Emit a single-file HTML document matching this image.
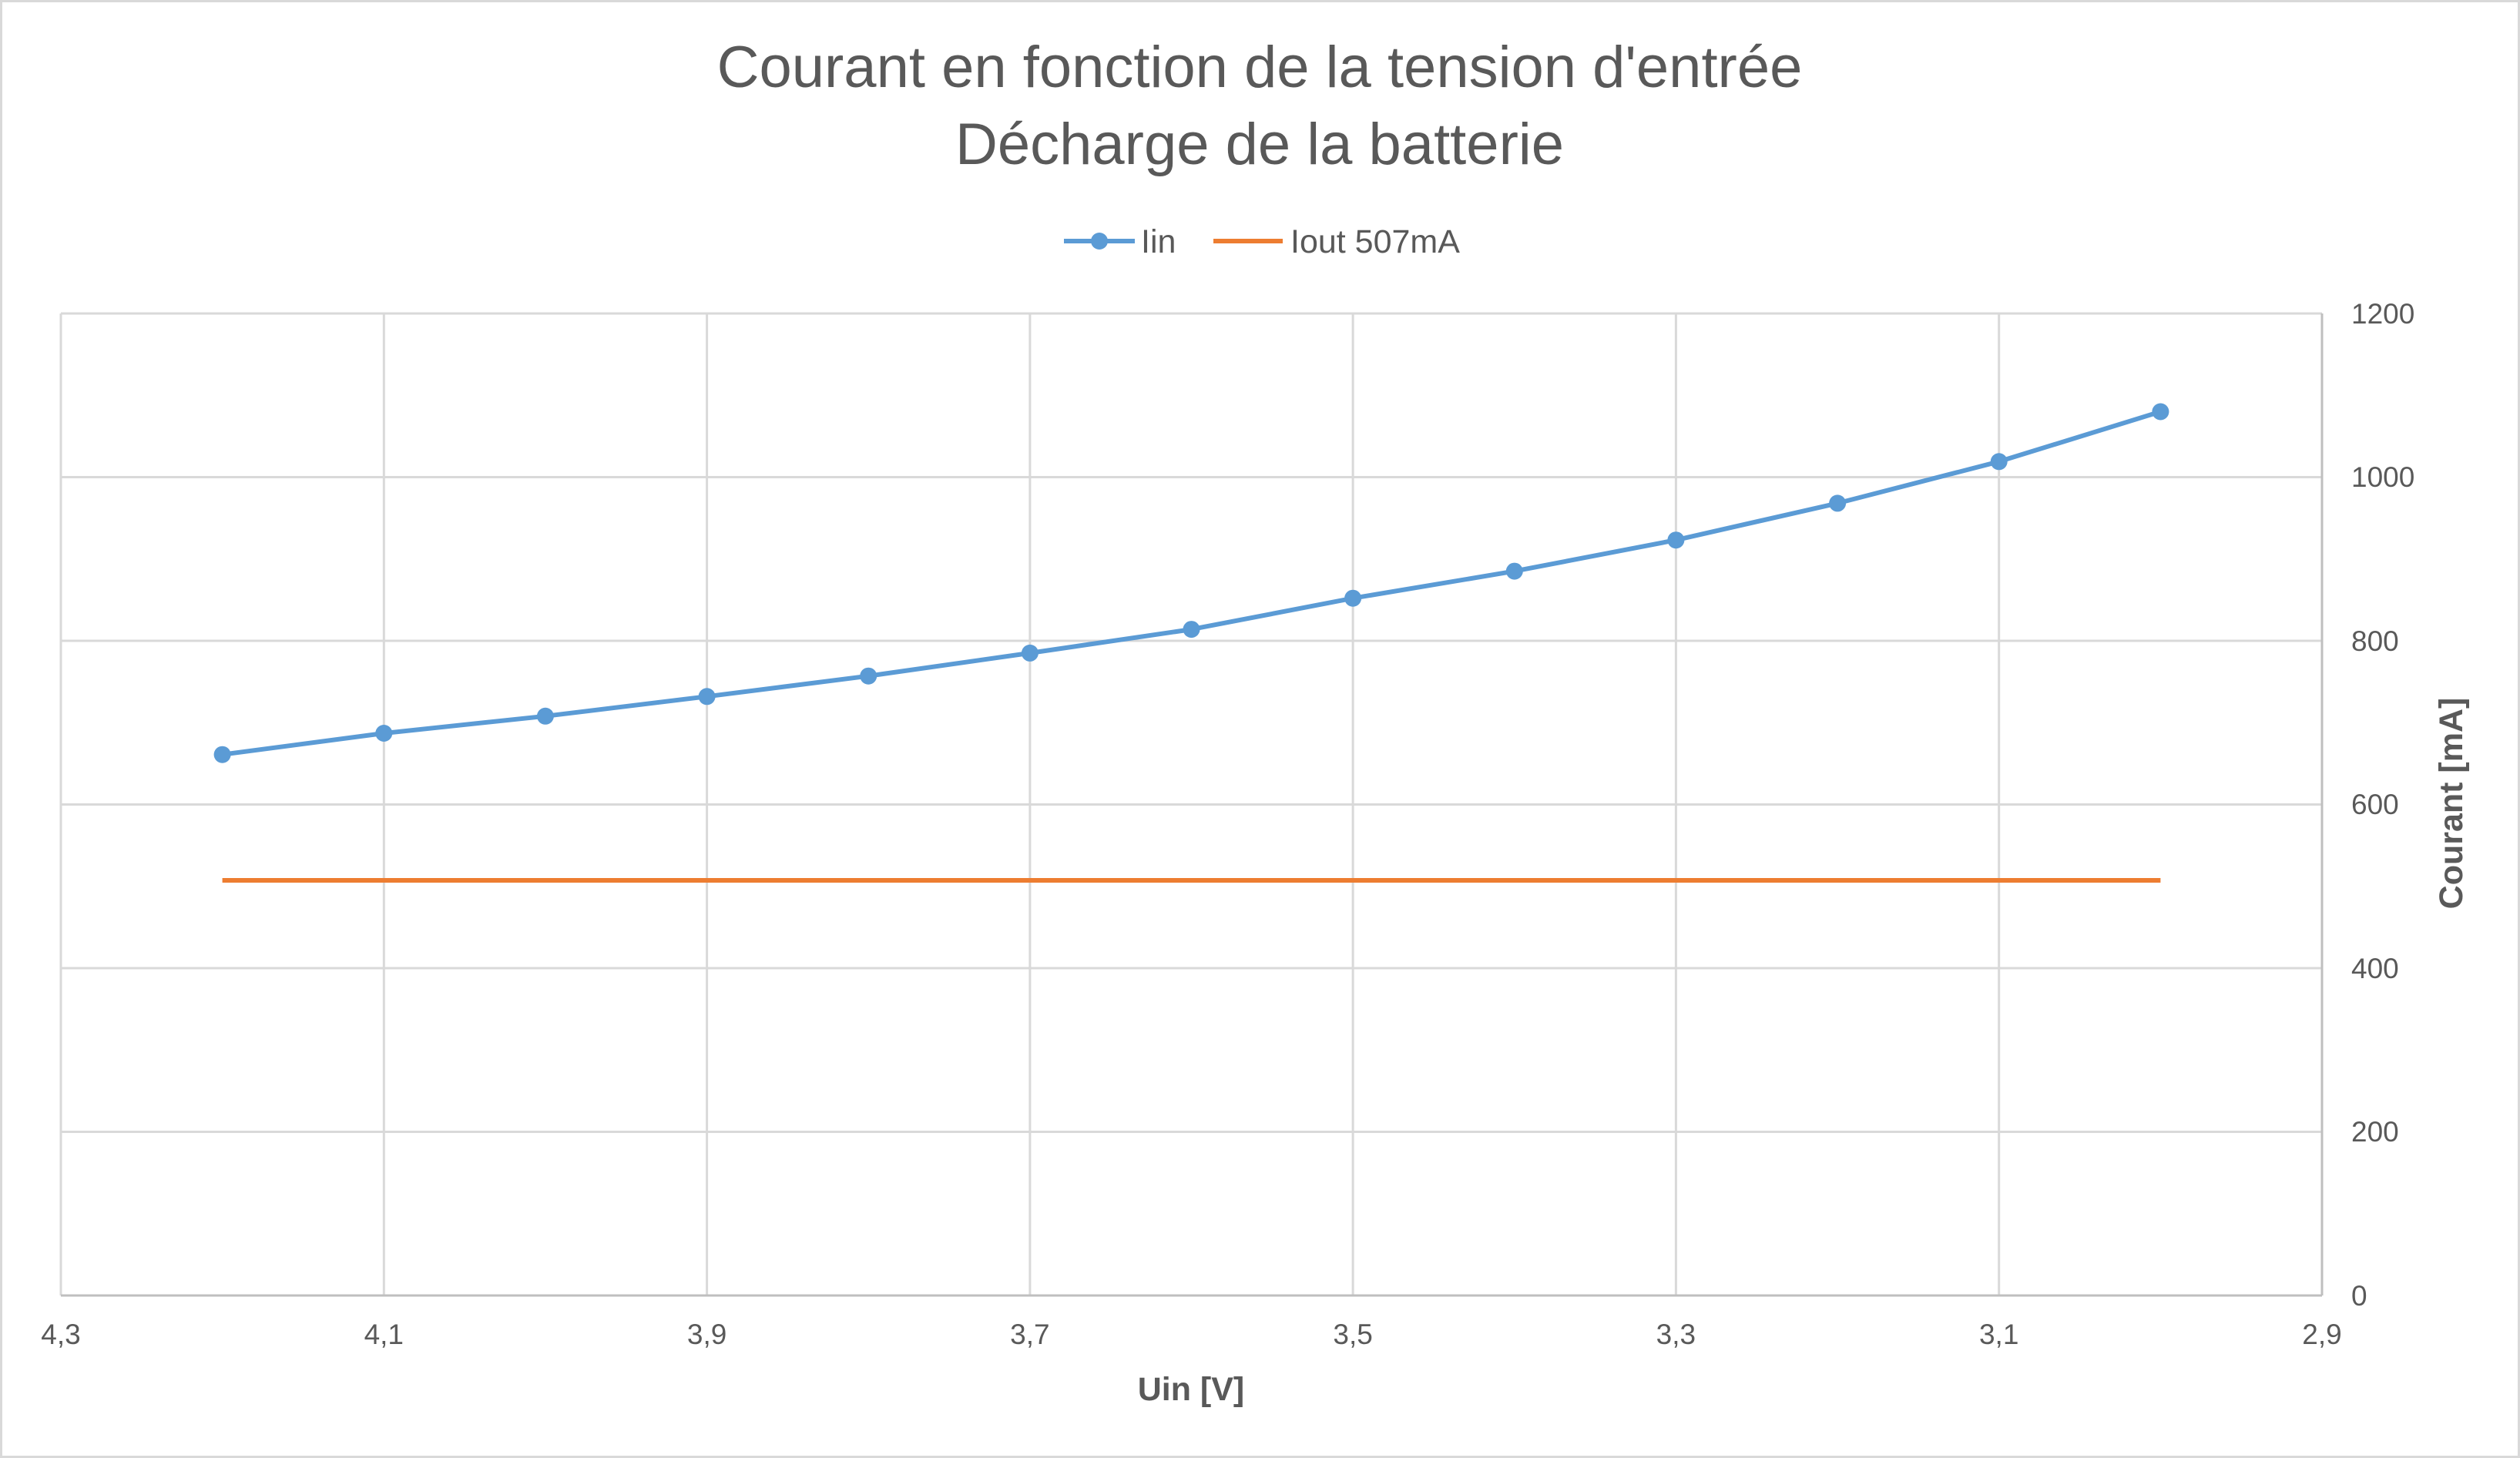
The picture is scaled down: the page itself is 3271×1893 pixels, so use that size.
<!DOCTYPE html>
<html><head><meta charset="utf-8"><style>
html,body{margin:0;padding:0;background:#fff;}
svg{display:block;}
text{font-family:"Liberation Sans",sans-serif;fill:#595959;}
</style></head><body>
<svg width="3271" height="1893" viewBox="0 0 3271 1893" xmlns="http://www.w3.org/2000/svg">
<rect x="1.5" y="1.5" width="3268" height="1890" fill="#fff" stroke="#d9d9d9" stroke-width="3"/>
<g stroke="#d9d9d9" stroke-width="3">
<line x1="79" y1="407" x2="3014" y2="407"/>
<line x1="79" y1="619.5" x2="3014" y2="619.5"/>
<line x1="79" y1="832" x2="3014" y2="832"/>
<line x1="79" y1="1044.5" x2="3014" y2="1044.5"/>
<line x1="79" y1="1257" x2="3014" y2="1257"/>
<line x1="79" y1="1469.5" x2="3014" y2="1469.5"/>
<line x1="79" y1="407" x2="79" y2="1682"/>
<line x1="498.3" y1="407" x2="498.3" y2="1682"/>
<line x1="917.6" y1="407" x2="917.6" y2="1682"/>
<line x1="1336.9" y1="407" x2="1336.9" y2="1682"/>
<line x1="1756.1" y1="407" x2="1756.1" y2="1682"/>
<line x1="2175.4" y1="407" x2="2175.4" y2="1682"/>
<line x1="2594.7" y1="407" x2="2594.7" y2="1682"/>
</g>
<g stroke="#bfbfbf" stroke-width="3">
<line x1="79" y1="1682" x2="3014" y2="1682"/>
<line x1="3014" y1="407" x2="3014" y2="1682"/>
</g>
<line x1="288.6" y1="1143" x2="2804.4" y2="1143" stroke="#ed7d31" stroke-width="6"/>
<polyline fill="none" stroke="#5b9bd5" stroke-width="6" stroke-linejoin="round" points="288.6,979.7 498.3,952.0 707.9,929.8 917.6,904.3 1127.2,877.7 1336.9,847.9 1546.5,817.1 1756.1,776.7 1965.8,741.6 2175.4,701.2 2385.1,653.4 2594.7,599.3 2804.4,534.5"/>
<g fill="#5b9bd5">
<circle cx="288.6" cy="979.7" r="11"/><circle cx="498.3" cy="952.0" r="11"/><circle cx="707.9" cy="929.8" r="11"/><circle cx="917.6" cy="904.3" r="11"/><circle cx="1127.2" cy="877.7" r="11"/><circle cx="1336.9" cy="847.9" r="11"/><circle cx="1546.5" cy="817.1" r="11"/><circle cx="1756.1" cy="776.7" r="11"/><circle cx="1965.8" cy="741.6" r="11"/><circle cx="2175.4" cy="701.2" r="11"/><circle cx="2385.1" cy="653.4" r="11"/><circle cx="2594.7" cy="599.3" r="11"/><circle cx="2804.4" cy="534.5" r="11"/>
</g>
<g font-size="37" text-anchor="start">
<text x="3052" y="420">1200</text>
<text x="3052" y="632">1000</text>
<text x="3052" y="845">800</text>
<text x="3052" y="1057">600</text>
<text x="3052" y="1270">400</text>
<text x="3052" y="1482">200</text>
<text x="3052" y="1695">0</text>
</g>
<g font-size="37" text-anchor="middle">
<text x="79" y="1745">4,3</text>
<text x="498.3" y="1745">4,1</text>
<text x="917.6" y="1745">3,9</text>
<text x="1336.9" y="1745">3,7</text>
<text x="1756.1" y="1745">3,5</text>
<text x="2175.4" y="1745">3,3</text>
<text x="2594.7" y="1745">3,1</text>
<text x="3014" y="1745">2,9</text>
</g>
<text x="1546" y="1818" font-size="43" font-weight="bold" text-anchor="middle">Uin [V]</text>
<text transform="translate(3196,1043) rotate(-90)" font-size="43" font-weight="bold" text-anchor="middle">Courant [mA]</text>
<text x="1635" y="113" font-size="76" text-anchor="middle">Courant en fonction de la tension d'entrée</text>
<text x="1635" y="213" font-size="76" text-anchor="middle">Décharge de la batterie</text>
<line x1="1381" y1="313" x2="1473" y2="313" stroke="#5b9bd5" stroke-width="6"/>
<circle cx="1427" cy="313" r="11" fill="#5b9bd5"/>
<text x="1481" y="328" font-size="43">Iin</text>
<line x1="1575" y1="313" x2="1665" y2="313" stroke="#ed7d31" stroke-width="6"/>
<text x="1675" y="328" font-size="43">Iout 507mA</text>
</svg>
</body></html>
